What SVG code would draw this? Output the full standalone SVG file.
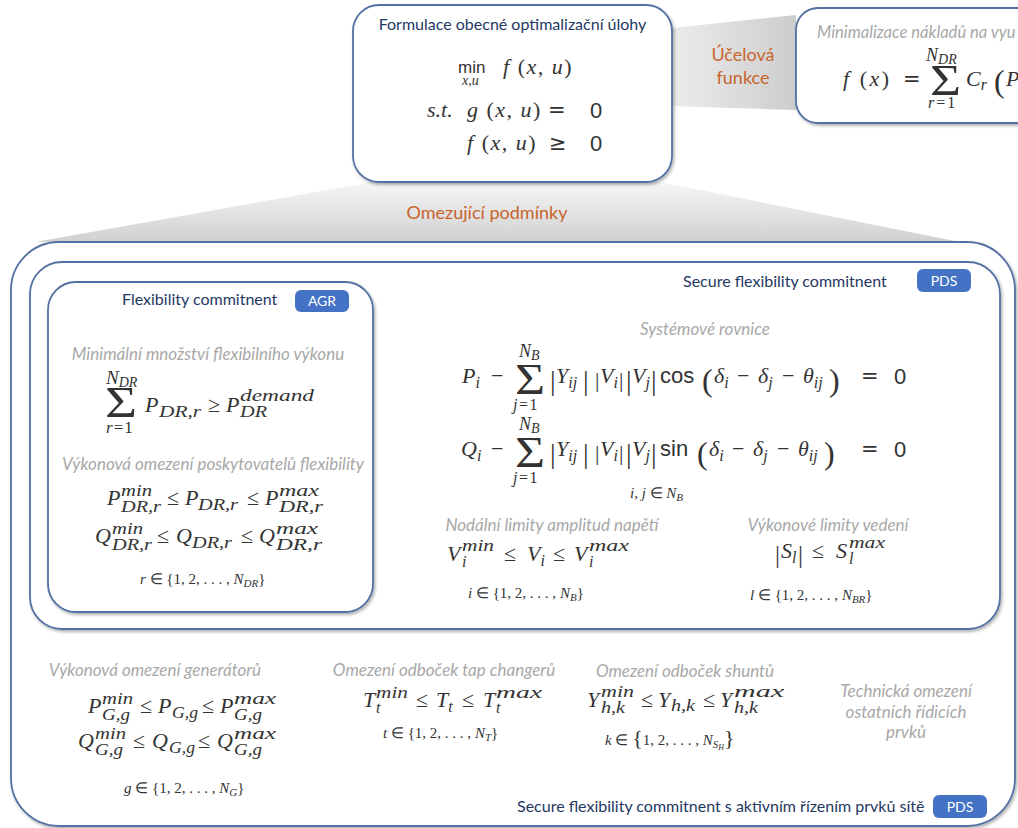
<svg xmlns="http://www.w3.org/2000/svg" width="1018" height="828" viewBox="0 0 1018 828">
<defs>
<style>
.box{fill:#fff;stroke:#5470a3;stroke-width:1.8}
.t{font-family:Lato,"Open Sans",sans-serif;fill:#1f3864;font-size:16px}
.h{font-family:Lato,"Open Sans",sans-serif;font-style:italic;fill:#a8a8a8;font-size:17px}
.o{font-family:Lato,"Open Sans",sans-serif;fill:#c8642c;font-size:18px;text-anchor:middle}
.badge{fill:#4472c4}
.bt{font-family:Lato,"Open Sans",sans-serif;fill:#fff;font-size:14px;text-anchor:middle}
.v{font-family:"Liberation Serif",serif;font-style:italic;font-size:22px;fill:#333}
.u{font-family:"Liberation Serif",serif;font-style:normal;font-size:22px;fill:#333}
.n{font-family:"Liberation Sans",sans-serif;font-style:normal;font-size:22px;fill:#333}
.ds{font-family:"DejaVu Sans",sans-serif;font-style:normal;font-size:20px;fill:#333}
.sc{font-size:16px}
.ix{font-size:15px}
.bar{font-family:"Liberation Serif",serif;font-style:normal;font-size:28px;fill:#333}
.sg{font-family:"Liberation Serif",serif;font-style:normal;font-size:44px;fill:#333}
</style>
<filter id="sh" x="-5%" y="-5%" width="112%" height="115%">
<feDropShadow dx="1.5" dy="2" stdDeviation="1.5" flood-color="#000" flood-opacity="0.3"/>
</filter>
<linearGradient id="gObj" x1="0" y1="0" x2="1" y2="0">
<stop offset="0" stop-color="#ececec"/>
<stop offset="1" stop-color="#cdcdcd"/>
</linearGradient>
<linearGradient id="gCon" x1="0" y1="0" x2="0" y2="1">
<stop offset="0" stop-color="#f6f6f6"/>
<stop offset="1" stop-color="#d0d0d0"/>
</linearGradient>
</defs>
<rect width="1018" height="828" fill="#fff"/>

<g id="connectors">
<polygon points="672,28 796,15 796,110 672,106" fill="url(#gObj)"/>
<text class="o" x="743" y="61">Účelová</text>
<text class="o" x="743" y="84">funkce</text>
<polygon points="372,182 660,182 960,242 35,242" fill="url(#gCon)"/>
<text class="o" x="487" y="219">Omezující podmínky</text>
</g>

<g id="node-formulation">
<rect class="box" x="353" y="5" width="319" height="177" rx="26" filter="url(#sh)"/>
<text class="t" x="512.5" y="30" text-anchor="middle">Formulace obecné optimalizační úlohy</text>
<text class="n" x="458" y="73" style="font-size:17px">min</text>
<text class="v" x="462" y="85" style="font-size:14px">x,u</text>
<text class="v" x="503" y="74" style="letter-spacing:1.5px">f<tspan class="u"> (</tspan>x, u<tspan class="u">)</tspan></text>
<text class="v" x="427" y="117">s.t.</text>
<text class="v" x="467" y="117" style="letter-spacing:1.5px">g<tspan class="u"> (</tspan>x, u<tspan class="u">)</tspan></text>
<text class="ds" x="548" y="117" style="font-size:21px">=</text>
<text class="n" x="590" y="118">0</text>
<text class="v" x="467" y="150" style="letter-spacing:1.5px">f<tspan class="u"> (</tspan>x, u<tspan class="u">)</tspan></text>
<text class="ds" x="549" y="150" style="font-size:21px">≥</text>
<text class="n" x="590" y="151">0</text>
</g>

<g id="node-objective">
<rect class="box" x="796" y="8" width="260" height="115" rx="22" filter="url(#sh)"/>
<text class="h" x="817" y="38" style="font-size:16.6px">Minimalizace nákladů na vyu</text>
<text class="v" x="843" y="86" style="letter-spacing:2.5px">f<tspan class="u"> (</tspan>x<tspan class="u">)</tspan></text>
<text class="ds" x="903" y="86" style="font-size:21px">=</text>
<text class="v" x="926" y="61" style="font-size:18px">N<tspan style="font-size:14px" dy="3">DR</tspan></text>
<text class="sg" x="930" y="95" textLength="31" lengthAdjust="spacingAndGlyphs">Σ</text>
<text class="v" x="928" y="108" style="font-size:16px;letter-spacing:2px">r<tspan class="u" style="font-size:16px">=1</tspan></text>
<text class="v" x="966" y="86">C<tspan class="sc" dy="4">r</tspan></text>
<text class="u" x="994" y="92" style="font-size:32px">(</text>
<text class="v" x="1006" y="86">P</text>
</g>

<g id="node-network">
<rect class="box" x="11" y="242" width="1004" height="584" rx="48" filter="url(#sh)"/>
<text class="h" x="155" y="676" text-anchor="middle">Výkonová omezení generátorů</text>
<text class="v" x="88" y="713">P</text>
<text class="v sc" x="102" y="704" textLength="31" lengthAdjust="spacingAndGlyphs">min</text>
<text class="v sc" x="102" y="720" textLength="28" lengthAdjust="spacingAndGlyphs">G,g</text>
<text class="u" x="140" y="713">≤</text>
<text class="v" x="158" y="713">P</text>
<text class="v sc" x="172" y="718" textLength="26" lengthAdjust="spacingAndGlyphs">G,g</text>
<text class="u" x="202" y="713">≤</text>
<text class="v" x="220" y="713">P</text>
<text class="v sc" x="234" y="704" textLength="42" lengthAdjust="spacingAndGlyphs">max</text>
<text class="v sc" x="234" y="720" textLength="28" lengthAdjust="spacingAndGlyphs">G,g</text>
<text class="v" x="78" y="748">Q</text>
<text class="v sc" x="95" y="739" textLength="31" lengthAdjust="spacingAndGlyphs">min</text>
<text class="v sc" x="95" y="755" textLength="28" lengthAdjust="spacingAndGlyphs">G,g</text>
<text class="u" x="133" y="748">≤</text>
<text class="v" x="152" y="748">Q</text>
<text class="v sc" x="169" y="753" textLength="26" lengthAdjust="spacingAndGlyphs">G,g</text>
<text class="u" x="198" y="748">≤</text>
<text class="v" x="217" y="748">Q</text>
<text class="v sc" x="234" y="739" textLength="42" lengthAdjust="spacingAndGlyphs">max</text>
<text class="v sc" x="234" y="755" textLength="28" lengthAdjust="spacingAndGlyphs">G,g</text>
<text class="v ix" x="124" y="793">g<tspan class="u ix"> ∈ {1, 2, . . . , </tspan>N<tspan style="font-size:11px" dy="3">G</tspan><tspan class="u ix" dy="-3">}</tspan></text>

<text class="h" x="444" y="676" text-anchor="middle">Omezení odboček tap changerů</text>
<text class="v" x="363" y="707">T</text>
<text class="v sc" x="376" y="698" textLength="32" lengthAdjust="spacingAndGlyphs">min</text>
<text class="v sc" x="376" y="713">t</text>
<text class="u" x="416" y="707">≤</text>
<text class="v" x="436" y="707">T<tspan class="sc" dy="5">t</tspan></text>
<text class="u" x="462" y="707">≤</text>
<text class="v" x="483" y="707">T</text>
<text class="v sc" x="496" y="698" textLength="46" lengthAdjust="spacingAndGlyphs">max</text>
<text class="v sc" x="496" y="713">t</text>
<text class="v ix" x="383" y="738">t<tspan class="u ix"> ∈ {1, 2, . . . , </tspan>N<tspan style="font-size:11px" dy="3">T</tspan><tspan class="u ix" dy="-3">}</tspan></text>

<text class="h" x="685" y="677" text-anchor="middle">Omezení odboček shuntů</text>
<text class="v" x="587" y="707">Y</text>
<text class="v sc" x="601" y="697" textLength="33" lengthAdjust="spacingAndGlyphs">min</text>
<text class="v sc" x="601" y="713" textLength="24" lengthAdjust="spacingAndGlyphs">h,k</text>
<text class="u" x="641" y="707">≤</text>
<text class="v" x="658" y="707">Y</text>
<text class="v sc" x="671" y="711" textLength="24" lengthAdjust="spacingAndGlyphs">h,k</text>
<text class="u" x="703" y="707">≤</text>
<text class="v" x="720" y="707">Y</text>
<text class="v sc" x="734" y="697" textLength="50" lengthAdjust="spacingAndGlyphs">max</text>
<text class="v sc" x="734" y="713" textLength="24" lengthAdjust="spacingAndGlyphs">h,k</text>
<text class="v ix" x="605" y="745">k<tspan class="u ix"> ∈ </tspan><tspan class="u" style="font-size:22px">{</tspan><tspan class="u ix">1, 2, . . . , </tspan>N<tspan style="font-size:11px" dy="3">S</tspan><tspan style="font-size:8px" dy="2">H</tspan><tspan class="u" style="font-size:22px" dy="-5">}</tspan></text>

<text class="h" x="906" y="697" text-anchor="middle">Technická omezení</text>
<text class="h" x="906" y="718" text-anchor="middle">ostatních řídicích</text>
<text class="h" x="906" y="738" text-anchor="middle">prvků</text>

<text class="t" x="517" y="812">Secure flexibility commitnent s aktivním řízením prvků sítě</text>
<rect class="badge" x="933" y="795" width="54" height="23" rx="6"/>
<text class="bt" x="960" y="812">PDS</text>
</g>

<g id="node-secure">
<rect class="box" x="30" y="262" width="970" height="367" rx="32" filter="url(#sh)"/>
<text class="t" x="683" y="287">Secure flexibility commitnent</text>
<rect class="badge" x="917" y="269" width="54" height="23" rx="6"/>
<text class="bt" x="944" y="286">PDS</text>
<text class="h" x="705" y="335" text-anchor="middle">Systémové rovnice</text>

<text class="v" x="462" y="383">P<tspan class="sc" dy="5">i</tspan></text>
<text class="u" x="491" y="383">−</text>
<text class="v" x="519" y="357" style="font-size:18px">N<tspan style="font-size:14px" dy="3">B</tspan></text>
<text class="sg" x="515" y="394" textLength="30" lengthAdjust="spacingAndGlyphs">Σ</text>
<text class="v" x="513" y="410" style="font-size:16px;letter-spacing:1.5px">j<tspan class="u" style="font-size:16px">=1</tspan></text>
<text class="bar" x="550" y="390">|</text>
<text class="v" x="556" y="383">Y<tspan class="sc" dy="5">ij</tspan></text>
<text class="bar" x="583" y="390">|</text>
<text class="u" x="595" y="387">|</text>
<text class="v" x="600" y="383">V<tspan class="sc" dy="5">i</tspan></text>
<text class="u" x="619" y="387">|</text>
<text class="bar" x="626" y="390">|</text>
<text class="v" x="632" y="383">V<tspan class="sc" dy="5">j</tspan></text>
<text class="bar" x="651" y="390">|</text>
<text class="n" x="660" y="383">cos</text>
<text class="u" x="702" y="391" style="font-size:32px">(</text>
<text class="v" x="714" y="383">δ<tspan class="sc" dy="5">i</tspan></text>
<text class="u" x="737" y="383">−</text>
<text class="v" x="758" y="383">δ<tspan class="sc" dy="5">j</tspan></text>
<text class="u" x="782" y="383">−</text>
<text class="v" x="803" y="383">θ<tspan class="sc" dy="5">ij</tspan></text>
<text class="u" x="829" y="391" style="font-size:32px">)</text>
<text class="ds" x="861" y="383" style="font-size:21px">=</text>
<text class="n" x="894" y="384">0</text>

<text class="v" x="461" y="456">Q<tspan class="sc" dy="5">i</tspan></text>
<text class="u" x="491" y="456">−</text>
<text class="v" x="519" y="430" style="font-size:18px">N<tspan style="font-size:14px" dy="3">B</tspan></text>
<text class="sg" x="515" y="467" textLength="30" lengthAdjust="spacingAndGlyphs">Σ</text>
<text class="v" x="513" y="483" style="font-size:16px;letter-spacing:1.5px">j<tspan class="u" style="font-size:16px">=1</tspan></text>
<text class="bar" x="550" y="463">|</text>
<text class="v" x="556" y="456">Y<tspan class="sc" dy="5">ij</tspan></text>
<text class="bar" x="583" y="463">|</text>
<text class="u" x="595" y="460">|</text>
<text class="v" x="600" y="456">V<tspan class="sc" dy="5">i</tspan></text>
<text class="u" x="619" y="460">|</text>
<text class="bar" x="626" y="463">|</text>
<text class="v" x="632" y="456">V<tspan class="sc" dy="5">j</tspan></text>
<text class="bar" x="651" y="463">|</text>
<text class="n" x="660" y="456">sin</text>
<text class="u" x="697" y="464" style="font-size:32px">(</text>
<text class="v" x="709" y="456">δ<tspan class="sc" dy="5">i</tspan></text>
<text class="u" x="732" y="456">−</text>
<text class="v" x="753" y="456">δ<tspan class="sc" dy="5">j</tspan></text>
<text class="u" x="777" y="456">−</text>
<text class="v" x="798" y="456">θ<tspan class="sc" dy="5">ij</tspan></text>
<text class="u" x="824" y="464" style="font-size:32px">)</text>
<text class="ds" x="861" y="456" style="font-size:21px">=</text>
<text class="n" x="894" y="457">0</text>
<text class="v ix" x="630" y="498">i, j<tspan class="u ix"> ∈ </tspan>N<tspan style="font-size:11px" dy="3">B</tspan></text>

<text class="h" x="552" y="531" text-anchor="middle">Nodální limity amplitud napětí</text>
<text class="v" x="447" y="561">V</text>
<text class="v sc" x="462" y="551" textLength="32" lengthAdjust="spacingAndGlyphs">min</text>
<text class="v sc" x="462" y="567">i</text>
<text class="u" x="504" y="561">≤</text>
<text class="v" x="527" y="561">V<tspan class="sc" dy="5">i</tspan></text>
<text class="u" x="553" y="561">≤</text>
<text class="v" x="574" y="561">V</text>
<text class="v sc" x="589" y="551" textLength="40" lengthAdjust="spacingAndGlyphs">max</text>
<text class="v sc" x="589" y="567">i</text>
<text class="v ix" x="468" y="598">i<tspan class="u ix"> ∈ {1, 2, . . . , </tspan>N<tspan style="font-size:11px" dy="3">B</tspan><tspan class="u ix" dy="-3">}</tspan></text>

<text class="h" x="828" y="531" text-anchor="middle">Výkonové limity vedení</text>
<text class="u" x="775" y="563" style="font-size:25px">|</text>
<text class="v" x="781" y="558">S<tspan class="sc" dy="5">l</tspan></text>
<text class="u" x="798" y="563" style="font-size:25px">|</text>
<text class="u" x="812" y="558">≤</text>
<text class="v" x="836" y="558">S</text>
<text class="v sc" x="849" y="548" textLength="36" lengthAdjust="spacingAndGlyphs">max</text>
<text class="v sc" x="849" y="564">l</text>
<text class="v ix" x="750" y="600">l<tspan class="u ix"> ∈ {1, 2, . . . , </tspan>N<tspan style="font-size:11px" dy="3">BR</tspan><tspan class="u ix" dy="-3">}</tspan></text>
</g>

<g id="node-flexibility">
<rect class="box" x="48" y="282" width="325" height="330" rx="28" filter="url(#sh)"/>
<text class="t" x="122" y="305">Flexibility commitnent</text>
<rect class="badge" x="295" y="290" width="54" height="22" rx="6"/>
<text class="bt" x="322" y="306">AGR</text>
<text class="h" x="208" y="360" text-anchor="middle">Minimální množství flexibilního výkonu</text>
<text class="v" x="106" y="384" style="font-size:19px">N<tspan style="font-size:14px" dy="3">DR</tspan></text>
<text class="sg" x="105" y="417" textLength="32" lengthAdjust="spacingAndGlyphs">Σ</text>
<text class="v" x="106" y="433" style="font-size:17px;letter-spacing:1px">r<tspan class="u" style="font-size:17px">=1</tspan></text>
<text class="v" x="145" y="412">P</text>
<text class="v sc" x="159" y="417" textLength="42" lengthAdjust="spacingAndGlyphs">DR,r</text>
<text class="u" x="208" y="412">≥</text>
<text class="v" x="226" y="412">P</text>
<text class="v sc" x="240" y="401" textLength="74" lengthAdjust="spacingAndGlyphs">demand</text>
<text class="v sc" x="240" y="417" textLength="27" lengthAdjust="spacingAndGlyphs">DR</text>
<text class="h" x="213" y="470" text-anchor="middle">Výkonová omezení poskytovatelů flexibility</text>
<text class="v" x="107" y="505">P</text>
<text class="v sc" x="121" y="496" textLength="31" lengthAdjust="spacingAndGlyphs">min</text>
<text class="v sc" x="121" y="512" textLength="40" lengthAdjust="spacingAndGlyphs">DR,r</text>
<text class="u" x="167" y="505">≤</text>
<text class="v" x="185" y="505">P</text>
<text class="v sc" x="198" y="510" textLength="40" lengthAdjust="spacingAndGlyphs">DR,r</text>
<text class="u" x="247" y="505">≤</text>
<text class="v" x="265" y="505">P</text>
<text class="v sc" x="279" y="496" textLength="40" lengthAdjust="spacingAndGlyphs">max</text>
<text class="v sc" x="279" y="512" textLength="44" lengthAdjust="spacingAndGlyphs">DR,r</text>
<text class="v" x="95" y="543">Q</text>
<text class="v sc" x="112" y="534" textLength="31" lengthAdjust="spacingAndGlyphs">min</text>
<text class="v sc" x="112" y="550" textLength="40" lengthAdjust="spacingAndGlyphs">DR,r</text>
<text class="u" x="157" y="543">≤</text>
<text class="v" x="176" y="543">Q</text>
<text class="v sc" x="192" y="548" textLength="40" lengthAdjust="spacingAndGlyphs">DR,r</text>
<text class="u" x="241" y="543">≤</text>
<text class="v" x="259" y="543">Q</text>
<text class="v sc" x="276" y="534" textLength="42" lengthAdjust="spacingAndGlyphs">max</text>
<text class="v sc" x="276" y="550" textLength="46" lengthAdjust="spacingAndGlyphs">DR,r</text>
<text class="v ix" x="140" y="584">r<tspan class="u ix"> ∈ {1, 2, . . . , </tspan>N<tspan style="font-size:11px" dy="3">DR</tspan><tspan class="u ix" dy="-3">}</tspan></text>
</g>
</svg>
